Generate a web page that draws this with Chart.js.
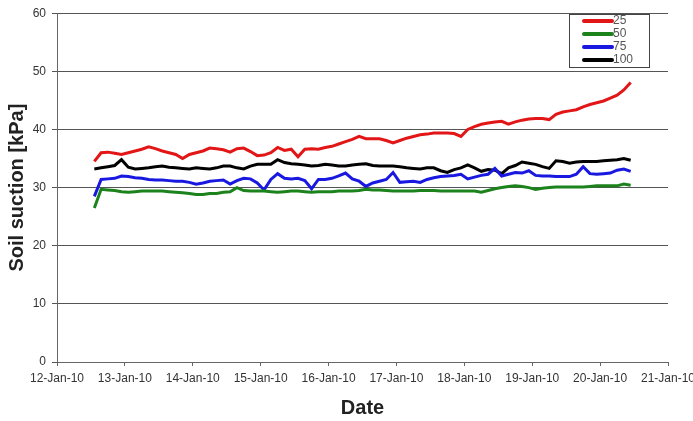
<!DOCTYPE html>
<html>
<head>
<meta charset="utf-8">
<script src="https://cdn.jsdelivr.net/npm/chart.js@4/dist/chart.umd.min.js"></script>
<style>
  html, body { margin: 0; padding: 0; background: #fff; }
  #wrap { width: 693px; height: 421px; }
</style>
</head>
<body>
<div id="wrap"><canvas id="myChart" width="693" height="421"></canvas></div>
<script>
// tiempos (dia de enero 2010)
const times = [
  12.55, 12.65, 12.75, 12.85, 12.95, 13.05, 13.15, 13.25, 13.35, 13.45,
  13.55, 13.65, 13.75, 13.85, 13.95, 14.05, 14.15, 14.25, 14.35, 14.45,
  14.55, 14.65, 14.75, 14.85, 14.95, 15.05, 15.15, 15.25, 15.35, 15.45,
  15.55, 15.65, 15.75, 15.85, 15.95, 16.05, 16.15, 16.25, 16.35, 16.45,
  16.55, 16.65, 16.75, 16.85, 16.95, 17.05, 17.15, 17.25, 17.35, 17.45,
  17.55, 17.65, 17.75, 17.85, 17.95, 18.05, 18.15, 18.25, 18.35, 18.45,
  18.55, 18.65, 18.75, 18.85, 18.95, 19.05, 19.15, 19.25, 19.35, 19.45,
  19.55, 19.65, 19.75, 19.85, 19.95, 20.05, 20.15, 20.25, 20.35, 20.45
];

const s25 = [
  34.5, 36.0, 36.1, 35.9, 35.7, 36.0, 36.3, 36.6, 37.0, 36.7,
  36.3, 36.0, 35.7, 35.0, 35.7, 36.0, 36.3, 36.8, 36.7, 36.5,
  36.1, 36.7, 36.8, 36.2, 35.5, 35.6, 36.0, 36.9, 36.4, 36.6,
  35.3, 36.6, 36.7, 36.6, 36.9, 37.1, 37.5, 37.9, 38.3, 38.8,
  38.4, 38.4, 38.4, 38.1, 37.7, 38.1, 38.5, 38.8, 39.1, 39.2,
  39.4, 39.4, 39.4, 39.3, 38.8, 40.0, 40.5, 40.9, 41.1, 41.3,
  41.4, 40.9, 41.3, 41.6, 41.8, 41.9, 41.9, 41.7, 42.6, 43.0,
  43.2, 43.4, 43.9, 44.3, 44.6, 44.9, 45.4, 45.9, 46.8, 48.1
];

const s50 = [
  26.5, 29.7, 29.6, 29.5, 29.3, 29.2, 29.3, 29.4, 29.4, 29.4,
  29.4, 29.3, 29.2, 29.1, 29.0, 28.8, 28.8, 29.0, 29.0, 29.2,
  29.3, 30.0, 29.5, 29.4, 29.4, 29.4, 29.3, 29.2, 29.3, 29.4,
  29.4, 29.3, 29.2, 29.3, 29.3, 29.3, 29.4, 29.4, 29.4, 29.5,
  29.7, 29.6, 29.6, 29.5, 29.4, 29.4, 29.4, 29.4, 29.5, 29.5,
  29.5, 29.4, 29.4, 29.4, 29.4, 29.4, 29.4, 29.2, 29.5, 29.8,
  30.0, 30.2, 30.3, 30.2, 30.0, 29.7, 29.9, 30.0, 30.1, 30.1,
  30.1, 30.1, 30.1, 30.2, 30.3, 30.3, 30.3, 30.3, 30.6, 30.4
];

const s75 = [
  28.5, 31.4, 31.5, 31.6, 32.0, 31.9, 31.7, 31.6, 31.4, 31.3,
  31.3, 31.2, 31.1, 31.1, 30.9, 30.6, 30.8, 31.1, 31.2, 31.3,
  30.6, 31.2, 31.6, 31.5, 30.8, 29.6, 31.4, 32.4, 31.6, 31.5,
  31.6, 31.2, 29.8, 31.4, 31.4, 31.6, 32.0, 32.5, 31.5, 31.1,
  30.2, 30.8, 31.1, 31.4, 32.6, 30.9, 31.0, 31.1, 30.9, 31.4,
  31.7, 31.9, 32.0, 32.1, 32.3, 31.5, 31.8, 32.1, 32.3, 33.3,
  32.0, 32.3, 32.6, 32.5, 32.9, 32.1, 32.0, 32.0, 31.9, 31.9,
  31.9, 32.3, 33.6, 32.4, 32.3, 32.4, 32.5, 33.0, 33.2, 32.8
];

const s100 = [
  33.2, 33.4, 33.6, 33.8, 34.8, 33.5, 33.2, 33.3, 33.4, 33.6,
  33.7, 33.5, 33.4, 33.3, 33.2, 33.4, 33.3, 33.2, 33.4, 33.7,
  33.7, 33.4, 33.2, 33.7, 34.0, 34.0, 34.0, 34.8, 34.3, 34.1,
  34.0, 33.9, 33.7, 33.8, 34.0, 33.9, 33.7, 33.7, 33.9, 34.0,
  34.1, 33.8, 33.7, 33.7, 33.7, 33.6, 33.4, 33.3, 33.2, 33.4,
  33.4, 32.9, 32.6, 33.1, 33.4, 33.9, 33.4, 32.8, 33.1, 33.0,
  32.4, 33.4, 33.8, 34.4, 34.2, 34.0, 33.6, 33.3, 34.6, 34.5,
  34.2, 34.4, 34.5, 34.5, 34.5, 34.6, 34.7, 34.8, 35.0, 34.7
];

const seriesLabels = ['25', '50', '75', '100'];
const xTickDays = [12, 13, 14, 15, 16, 17, 18, 19, 20, 21];

const FONT = "'Liberation Sans', Arial, sans-serif";

function pts(vals) {
  return vals.map((v, i) => ({ x: times[i], y: v }));
}

const data = {
  datasets: [
    { label: seriesLabels[0], data: pts(s25), borderColor: 'rgb(226,22,22)' },
    { label: seriesLabels[1], data: pts(s50), borderColor: 'rgb(28,130,28)' },
    { label: seriesLabels[2], data: pts(s75), borderColor: 'rgb(24,24,225)' },
    { label: seriesLabels[3], data: pts(s100), borderColor: 'rgb(0,0,0)' }
  ].map(d => Object.assign(d, {
    borderWidth: 3,
    pointRadius: 0,
    tension: 0,
    fill: false
  }))
};

// leyenda dibujada a mano con el recuadro
const boxLegend = {
  id: 'boxLegend',
  afterDraw(chart) {
    const ctx = chart.ctx;
    const x0 = 569, y0 = 14, w = 80, h = 53;
    ctx.save();
    ctx.fillStyle = '#fff';
    ctx.fillRect(x0, y0, w, h);
    ctx.strokeStyle = '#444';
    ctx.lineWidth = 1;
    ctx.strokeRect(x0 + 0.5, y0 + 0.5, w, h);
    ctx.font = '12px ' + FONT;
    ctx.textBaseline = 'middle';
    chart.data.datasets.forEach((ds, i) => {
      const y = y0 + 7 + i * 13;
      ctx.strokeStyle = ds.borderColor;
      ctx.lineWidth = 4;
      ctx.lineCap = 'round';
      ctx.beginPath();
      ctx.moveTo(584, y);
      ctx.lineTo(612, y);
      ctx.stroke();
      ctx.fillStyle = '#555';
      ctx.fillText(ds.label, 613, y);
    });
    ctx.restore();
  }
};

const options = {
  responsive: false,
  animation: false,
  layout: { padding: { left: 0, right: 25, top: 12, bottom: 0 } },
  plugins: {
    legend: { display: false },
    tooltip: { enabled: false }
  },
  scales: {
    x: {
      type: 'linear',
      min: 12,
      max: 21,
      afterBuildTicks: (scale) => {
        scale.ticks = xTickDays.map(v => ({ value: v }));
      },
      afterFit: (scale) => {
        scale.height = 59;
        scale.paddingRight = 0;  // dejar que la ultima etiqueta se corte
        scale.paddingLeft = 0;
      },
      ticks: {
        autoSkip: false,
        maxRotation: 0,
        padding: 5,
        color: '#333',
        font: { family: FONT, size: 12 },
        callback: (v) => v + '-Jan-10'
      },
      grid: {
        drawOnChartArea: false,
        drawTicks: true,
        tickLength: 4,
        color: '#666'
      },
      border: { display: true, color: '#666', width: 1 },
      title: {
        display: true,
        text: 'Date',
        color: '#222',
        font: { family: FONT, size: 20, weight: 'bold' },
        padding: { top: 0, bottom: 1 }
      }
    },
    y: {
      min: 0,
      max: 60,
      afterFit: (scale) => { scale.width = 57; },
      ticks: {
        stepSize: 10,
        padding: 6,
        color: '#333',
        font: { family: FONT, size: 12 }
      },
      grid: {
        color: '#555',
        lineWidth: 1,
        tickLength: 5
      },
      border: { display: true, color: '#666', width: 1 },
      title: {
        display: true,
        text: 'Soil suction [kPa]',
        color: '#222',
        font: { family: FONT, size: 20, weight: 'bold' },
        padding: { top: 5, bottom: 0 }
      }
    }
  }
};

const config = {
  type: 'line',
  data,
  options,
  plugins: [boxLegend]
};

const myChart = new Chart(document.getElementById('myChart').getContext('2d'), config);
</script>
</body>
</html>
